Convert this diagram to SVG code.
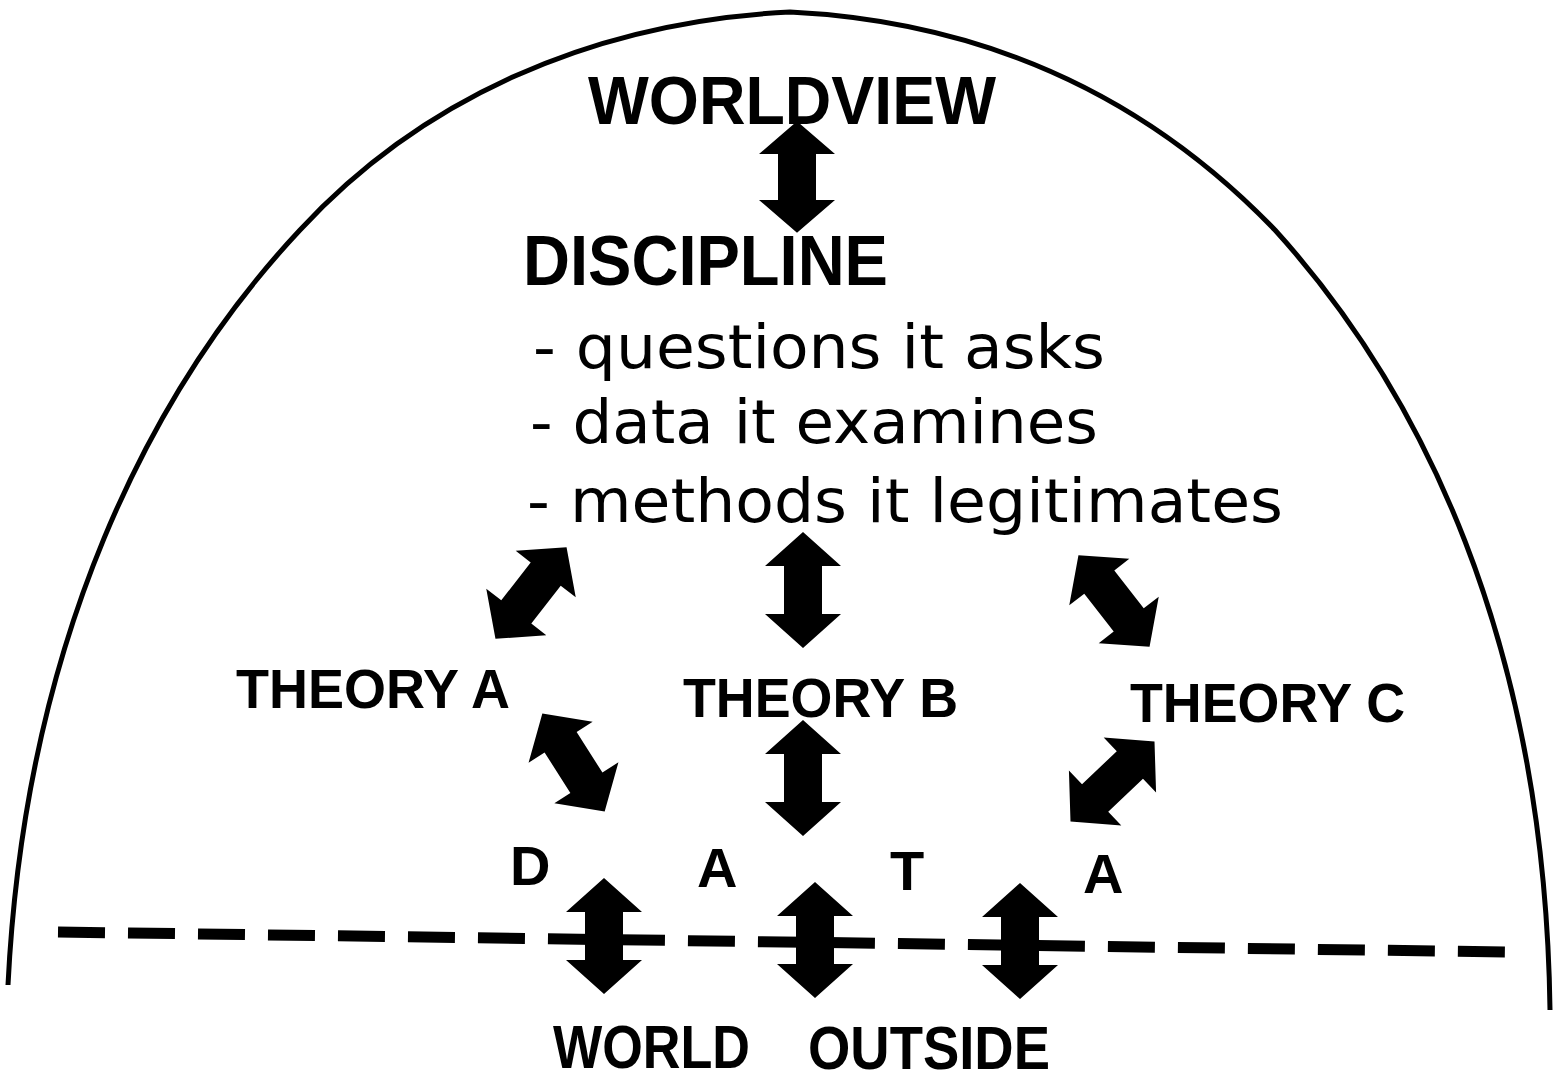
<svg xmlns="http://www.w3.org/2000/svg" width="1553" height="1081" viewBox="0 0 1553 1081">
<defs>
<style>
.b{font-family:"Liberation Sans",Arial,sans-serif;font-weight:bold;fill:#000}
.r{font-family:"DejaVu Sans","Liberation Sans",sans-serif;fill:#000}
.arr{fill:#000}
</style>
<path id="dbl" d="M0,-58 L38,-24 L19,-24 L19,24 L38,24 L0,58 L-38,24 L-19,24 L-19,-24 L-38,-24 Z"/>
</defs>
<rect width="1553" height="1081" fill="#fff"/>
<g id="arch">
<path d="M8,985 C25,640 150,390 300,230 C420,100 590,22 790,12 C990,22 1150,100 1275,230 C1420,390 1545,640 1550,1010" fill="none" stroke="#000" stroke-width="5"/>
</g>
<g id="boundary">
<line x1="58" y1="932" x2="1508" y2="952" stroke="#000" stroke-width="11" stroke-dasharray="47 23"/>
</g>
<g id="worldview"><text class="b" x="588" y="124" font-size="68" textLength="408" lengthAdjust="spacingAndGlyphs">WORLDVIEW</text></g>
<g id="discipline">
<text class="b" x="523" y="285" font-size="71" textLength="365" lengthAdjust="spacingAndGlyphs">DISCIPLINE</text>
<text class="r" x="533" y="368" font-size="60" textLength="572" lengthAdjust="spacingAndGlyphs">- questions it asks</text>
<text class="r" x="530" y="443" font-size="60" textLength="568" lengthAdjust="spacingAndGlyphs">- data it examines</text>
<text class="r" x="527" y="522" font-size="60" textLength="756" lengthAdjust="spacingAndGlyphs">- methods it legitimates</text>
</g>
<g id="theoryA"><text class="b" x="236" y="708" font-size="56" textLength="274" lengthAdjust="spacingAndGlyphs">THEORY A</text></g>
<g id="theoryB"><text class="b" x="683" y="717" font-size="56" textLength="275" lengthAdjust="spacingAndGlyphs">THEORY B</text></g>
<g id="theoryC"><text class="b" x="1130" y="722" font-size="56" textLength="275" lengthAdjust="spacingAndGlyphs">THEORY C</text></g>
<g id="data">
<text class="b" x="510" y="885" font-size="56">D</text>
<text class="b" x="697" y="887" font-size="56">A</text>
<text class="b" x="890" y="890" font-size="56">T</text>
<text class="b" x="1083" y="893" font-size="56">A</text>
</g>
<g id="world-outside">
<text class="b" x="553" y="1068" font-size="61" textLength="197" lengthAdjust="spacingAndGlyphs">WORLD</text>
<text class="b" x="808" y="1069" font-size="61" textLength="242" lengthAdjust="spacingAndGlyphs">OUTSIDE</text>
</g>
<g id="connectors" class="arr">
<use href="#dbl" transform="translate(797,177) scale(1,0.96)"/>
<use href="#dbl" transform="translate(531,593) rotate(37.8)"/>
<use href="#dbl" transform="translate(803,590)"/>
<use href="#dbl" transform="translate(1114,601) rotate(-37.8)"/>
<use href="#dbl" transform="translate(573.5,762.5) rotate(-32.5)"/>
<use href="#dbl" transform="translate(803,778)"/>
<use href="#dbl" transform="translate(1112.5,781.5) rotate(46.4)"/>
<use href="#dbl" transform="translate(604,936)"/>
<use href="#dbl" transform="translate(815,940)"/>
<use href="#dbl" transform="translate(1020,941)"/>
</g>
</svg>
